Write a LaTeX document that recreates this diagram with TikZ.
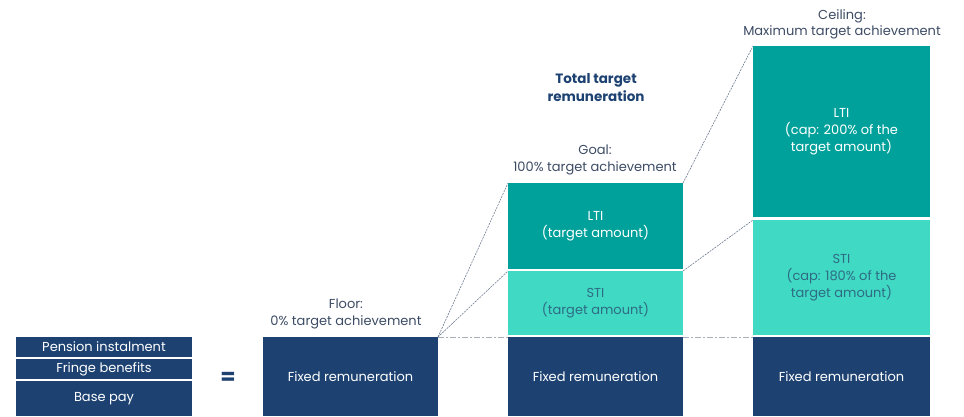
\documentclass[tikz,border=0pt]{standalone}
\usepackage{fontspec}
\setmainfont{Poppins}
\definecolor{navyc}{HTML}{1D4272}
\definecolor{tealc}{HTML}{00A19B}
\definecolor{lightc}{HTML}{40D9C3}
\definecolor{labelc}{HTML}{3C4B64}
\definecolor{stitext}{HTML}{2E6C84}
\definecolor{linec}{HTML}{6B7A8F}
\definecolor{dashc}{HTML}{A7B0BC}
\begin{document}
\begin{tikzpicture}[x=1pt,y=-1pt,
  box/.style={draw=none, inner sep=0pt, outer sep=0pt, anchor=north west, align=center, font=\fontsize{13}{17}\selectfont},
  navybox/.style={box, fill=navyc, text=white},
  ltibox/.style={box, fill=tealc, text=white},
  stibox/.style={box, fill=lightc, text=stitext},
  stackbox/.style={box, fill=navyc, text=white, minimum width=176pt, font=\fontsize{13}{15}\selectfont},
  lbl/.style={align=center, text=labelc, inner sep=0pt, font=\fontsize{13}{17}\selectfont},
  dotline/.style={draw=linec, line width=0.6pt, dash pattern=on 2pt off 1pt},
  dashdotline/.style={draw=dashc, line width=1pt, dash pattern=on 6pt off 2pt on 2pt off 2pt}]
\useasboundingbox (0,0) rectangle (964,416);
% left stack
\node[stackbox, minimum height=20pt] (pen) at (16,337) {Pension instalment};
\node[stackbox, minimum height=20pt] (fri) at (16,359) {Fringe benefits};
\node[stackbox, minimum height=35pt] (bas) at (16,381) {Base pay};
\node[text=navyc, font=\fontsize{22}{22}\selectfont\bfseries, inner sep=0pt] (eq) at (228,378) {=};
% column 1
\node[navybox, minimum width=175pt, minimum height=79pt] (fix1) at (263,337) {Fixed remuneration};
% column 2
\node[ltibox, minimum width=175pt, minimum height=86pt] (lti2) at (508,183) {LTI\\(target amount)};
\node[stibox, minimum width=175pt, minimum height=64pt] (sti2) at (508,271) {STI\\(target amount)};
\node[navybox, minimum width=175pt, minimum height=79pt] (fix2) at (508,337) {Fixed remuneration};
% column 3
\node[ltibox, minimum width=177pt, minimum height=171pt] (lti3) at (753,46) {LTI\\(cap: 200\% of the\\target amount)};
\node[stibox, minimum width=177pt, minimum height=115pt] (sti3) at (753,220) {STI\\(cap: 180\% of the\\target amount)};
\node[navybox, minimum width=177pt, minimum height=79pt] (fix3) at (753,337) {Fixed remuneration};
% labels
\node[lbl] (floor) at (346,314) {Floor:\\0\% target achievement};
\node[lbl] (goal) at (595,160) {Goal:\\100\% target achievement};
\node[lbl, text=navyc, font=\fontsize{13.5}{18}\selectfont\bfseries] (total) at (596,88) {Total target\\remuneration};
\node[lbl, font=\fontsize{13}{16}\selectfont] (ceil) at (842,24) {Ceiling:\\Maximum target achievement};
% connectors
\draw[dotline] (fix1.north east) -- (lti2.north west);
\draw[dotline] (fix1.north east) -- (sti2.north west);
\draw[dotline] (lti2.north east) -- (lti3.north west);
\draw[dotline] (sti2.north east) -- (sti3.north west);
\draw[dashdotline] (fix1.north east) -- (fix2.north west);
\draw[dashdotline] (fix2.north east) -- (fix3.north west);
\end{tikzpicture}
\end{document}
